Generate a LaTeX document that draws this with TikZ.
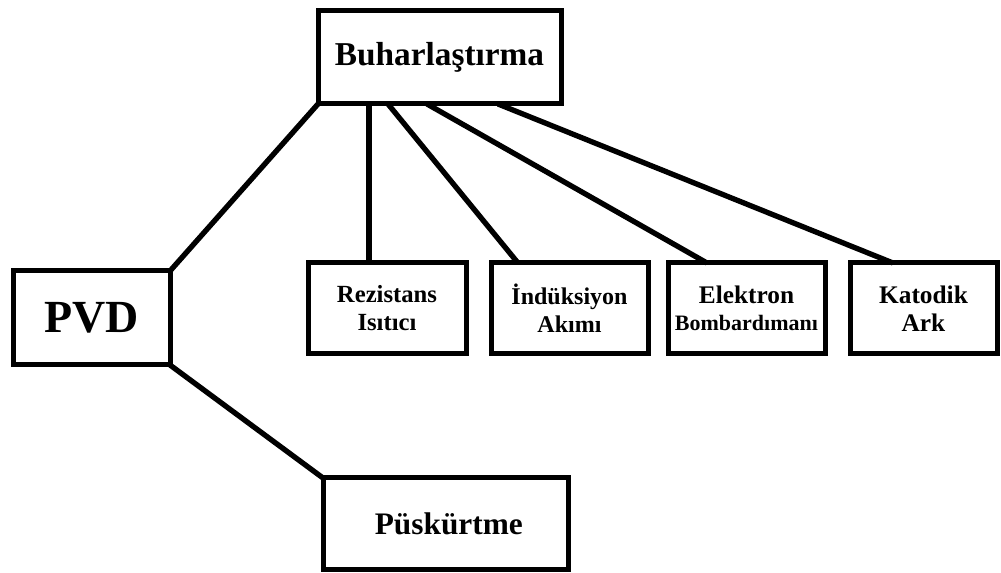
\documentclass[tikz,border=0pt]{standalone}
\usepackage{fontspec}
\setmainfont{Liberation Serif}
\begin{document}
\begin{tikzpicture}[x=0.75pt,y=-0.75pt,
  box/.style={draw=black, line width=3.75pt, fill=white, inner sep=0pt, outer sep=0pt,
    align=center, font=\bfseries, line join=miter},
  link/.style={draw=black, line width=4pt}]
\useasboundingbox (0,0) rectangle (1001,573);
% nodes
\node[box, minimum width=182.25pt, minimum height=69.75pt, font=\bfseries\fontsize{25}{30}\selectfont] (buh) at (439.5,57.5) {Buharlaştırma};
\node[box, minimum width=117.75pt, minimum height=70.5pt, font=\bfseries\fontsize{34.5}{40}\selectfont] (pvd) at (91.5,318) {PVD};
\node[box, minimum width=183.75pt, minimum height=69pt, font=\bfseries\fontsize{23.5}{28}\selectfont] (pus) at (445.5,524) {\hspace*{5pt}Püskürtme};
\node[box, minimum width=118.5pt, minimum height=68.25pt, font=\bfseries\fontsize{18.5}{21}\selectfont] (rez) at (387,308.5) {Rezistans\\Isıtıcı};
\node[box, minimum width=117.75pt, minimum height=68.25pt, font=\bfseries\fontsize{18}{21}\selectfont] (ind) at (569.5,308.5) {İndüksiyon\\Akımı};
\node[box, minimum width=117.75pt, minimum height=68.25pt, font=\bfseries\fontsize{16.5}{20}\selectfont] (ele) at (746.5,308.5) {{\fontsize{19}{20}\selectfont Elektron}\\Bombardımanı};
\node[box, minimum width=110.25pt, minimum height=68.25pt, font=\bfseries\fontsize{19}{21}\selectfont] (kat) at (923.5,308.5) {Katodik\\Ark};
% connectors
\draw[link] (pvd.north east) -- (buh.south west);
\draw[link] (pvd.south east) -- (pus.north west);
\draw[link] ([xshift=38.25pt]buh.south west) -- ([xshift=45.75pt]rez.north west);
\draw[link] ([xshift=52.5pt]buh.south west) -- ([xshift=20.25pt]ind.north west);
\draw[link] ([xshift=81.75pt]buh.south west) -- ([xshift=29.25pt]ele.north west);
\draw[link] ([xshift=135pt]buh.south west) -- ([xshift=32.25pt]kat.north west);
\end{tikzpicture}
\end{document}
